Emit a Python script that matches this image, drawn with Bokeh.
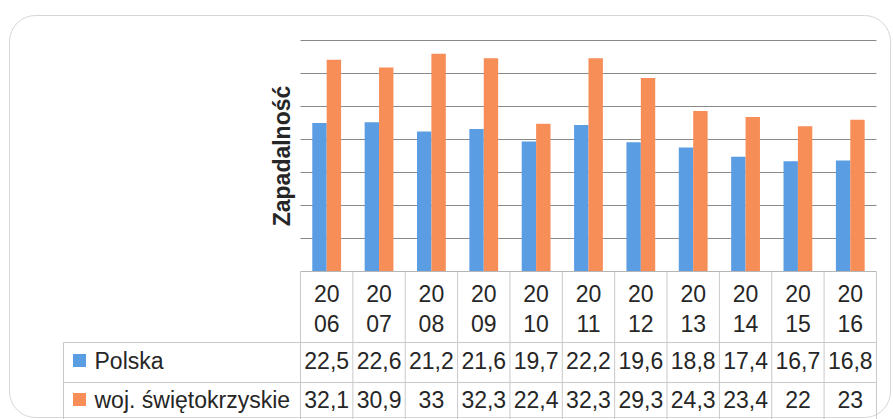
from bokeh.plotting import figure
from bokeh.models import Range1d, ColumnDataSource
from bokeh.core.properties import value
from bokeh.embed import file_html
from bokeh.resources import INLINE
import math

# ---- data ----
years = ["2006", "2007", "2008", "2009", "2010", "2011", "2012", "2013", "2014", "2015", "2016"]
series_names = ["Polska", "woj. świętokrzyskie"]
polska = [22.5, 22.6, 21.2, 21.6, 19.7, 22.2, 19.6, 18.8, 17.4, 16.7, 16.8]
swietokrzyskie = [32.1, 30.9, 33, 32.3, 22.4, 32.3, 29.3, 24.3, 23.4, 22, 23]
y_ticks = [0, 5, 10, 15, 20, 25, 30, 35]
y_title = "Zapadalność"

BLUE = "#5b9de3"
ORANGE = "#f78d57"
FONT = "Liberation Sans"

W, H = 893, 419
# pixel geometry helpers (column width and pixel per unit)
COLW = 52.36
PPU = 6.6
X0 = 300.0   # canvas x of first column left edge
Y0 = 271.0   # canvas y of value 0 (from top)

xr = Range1d(-X0 / COLW, (W - X0) / COLW)
yr = Range1d(-(H - Y0) / PPU, Y0 / PPU)

p = figure(width=W, height=H, x_range=xr, y_range=yr, output_backend="svg",
           toolbar_location=None, x_axis_type=None, y_axis_type=None,
           min_border=0, min_border_left=0, min_border_right=0,
           min_border_top=0, min_border_bottom=0)
p.outline_line_color = None
p.grid.visible = False
p.background_fill_color = "white"
p.border_fill_color = "white"

n = len(years)
ymax = max(y_ticks)

def px_to_v(px):
    return px / PPU

def px_to_u(px):
    return px / COLW

# outer rounded frame
p.quad(left=[px_to_u(-291)], right=[px_to_u(590)], top=[px_to_v(256)], bottom=[px_to_v(-146)],
       fill_color=None, line_color="#d6d6d6", line_width=1, border_radius=26)

# gridlines
grid_v = [t for t in y_ticks if t > 0]
p.segment(x0=[0] * len(grid_v), x1=[n] * len(grid_v), y0=grid_v, y1=grid_v,
          line_color="#8a8a8a", line_width=1)

# bars
centers = [i + 0.5 for i in range(n)]
bw = 0.275
src = ColumnDataSource(dict(xb=[c - bw / 2 for c in centers], xo=[c + bw / 2 for c in centers],
                            pol=polska, swi=swietokrzyskie))
p.vbar(x="xb", top="pol", bottom=0, width=bw, source=src, fill_color=BLUE, line_color=None)
p.vbar(x="xo", top="swi", bottom=0, width=bw, source=src, fill_color=ORANGE, line_color=None)

# table lines
LC = "#c9c9c9"
bottom_v = yr.start - 5
hdr_v = px_to_v(-71)
row1_v = px_to_v(-111)
label_left_u = px_to_u(-237)
# baseline
p.segment(x0=[0], x1=[n], y0=[0], y1=[0], line_color="#b5b5b5", line_width=1)
# vertical column lines
p.segment(x0=list(range(n + 1)), x1=list(range(n + 1)), y0=[0] * (n + 1), y1=[bottom_v] * (n + 1),
          line_color=LC, line_width=1)
# horizontal row lines
p.segment(x0=[label_left_u, label_left_u], x1=[n, n], y0=[hdr_v, row1_v], y1=[hdr_v, row1_v],
          line_color=LC, line_width=1)
# label column left border
p.segment(x0=[label_left_u], x1=[label_left_u], y0=[hdr_v], y1=[bottom_v], line_color=LC, line_width=1)

FS = "23px"
# year header (two lines)
p.text(x=centers, y=[px_to_v(-22)] * n, text=[y[:2] for y in years],
       text_font=value(FONT), text_font_size=FS, text_color="#262626",
       text_align="center", text_baseline="middle")
p.text(x=centers, y=[px_to_v(-52)] * n, text=[y[2:] for y in years],
       text_font=value(FONT), text_font_size=FS, text_color="#262626",
       text_align="center", text_baseline="middle")

def fmt(v):
    return f"{v:g}".replace(".", ",")

row_y = [px_to_v(-89), px_to_v(-128)]
for vals, ry in zip([polska, swietokrzyskie], row_y):
    p.text(x=centers, y=[ry] * n, text=[fmt(v) for v in vals],
           text_font=value(FONT), text_font_size=FS, text_color="#262626",
           text_align="center", text_baseline="middle")

# legend keys and series names
p.scatter(x=[px_to_u(-221)] * 2, y=row_y, marker="square", size=13,
          fill_color=[BLUE, ORANGE], line_color=None)
p.text(x=[px_to_u(-206)] * 2, y=row_y, text=series_names,
       text_font=value(FONT), text_font_size=FS, text_color="#262626",
       text_align="left", text_baseline="middle")

# y axis title
p.text(x=[px_to_u(-19)], y=[ymax / 2], text=[y_title], angle=math.pi / 2,
       text_font=value(FONT), text_font_size="23px", text_font_style="bold",
       text_color="#262626", text_align="center", text_baseline="middle")

open("out.html", "w").write(file_html(p, INLINE))
